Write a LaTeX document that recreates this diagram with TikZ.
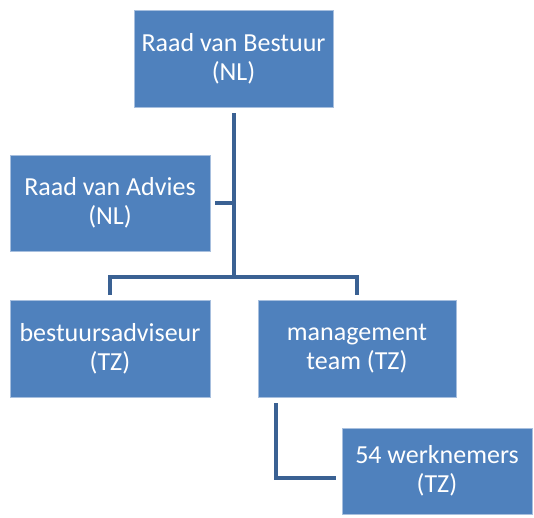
\documentclass[tikz,border=0pt]{standalone}
\usepackage{fontspec}
\setmainfont{Carlito}
\definecolor{boxblue}{HTML}{4F81BD}
\definecolor{boxedge}{HTML}{A7BFDE}
\definecolor{linkblue}{HTML}{3A6193}
\tikzset{
	unit/.style={draw=boxedge,line width=0.8pt,fill=boxblue,text=white,align=center,inner sep=0,outer sep=0,font=\fontsize{26}{29}\selectfont},
	link/.style={draw=linkblue,line width=4pt,line join=miter}
}
\begin{document}
\begin{tikzpicture}[x=1pt,y=-1pt]
	\useasboundingbox (0,0) rectangle (534,517);
	\node[unit,minimum width=199pt,minimum height=97pt] (rvb) at (233.5,58.5) {Raad van Bestuur\\(NL)};
	\node[unit,minimum width=200pt,minimum height=96pt] (rva) at (110,203) {Raad van Advies\\(NL)};
	\node[unit,minimum width=200pt,minimum height=97pt] (ba) at (110,348.5) {bestuursadviseur\\(TZ)};
	\node[unit,minimum width=198pt,minimum height=97pt] (mt) at (357,348.5) {management\\team (TZ)};
	\node[unit,minimum width=190pt,minimum height=86pt] (wn) at (437,471) {54 werknemers\\(TZ)};
	\coordinate (hub) at (233.5,277);
	\coordinate (mttop) at (276,397);
	\coordinate (mtbend) at (276,478);
	% tree lines
	\draw[link,shorten <=6pt] (rvb.south) -- (hub);
	\draw[link,shorten <=5pt,shorten >=5pt] (ba.north) |- (hub) -| (mt.north);
	\draw[link,shorten <=5pt] (rva.east) -- (rva.east -| hub);
	\draw[link,shorten <=6pt,shorten >=6pt] (mttop) -- (mtbend) -- (mtbend -| wn.west);
\end{tikzpicture}
\end{document}
